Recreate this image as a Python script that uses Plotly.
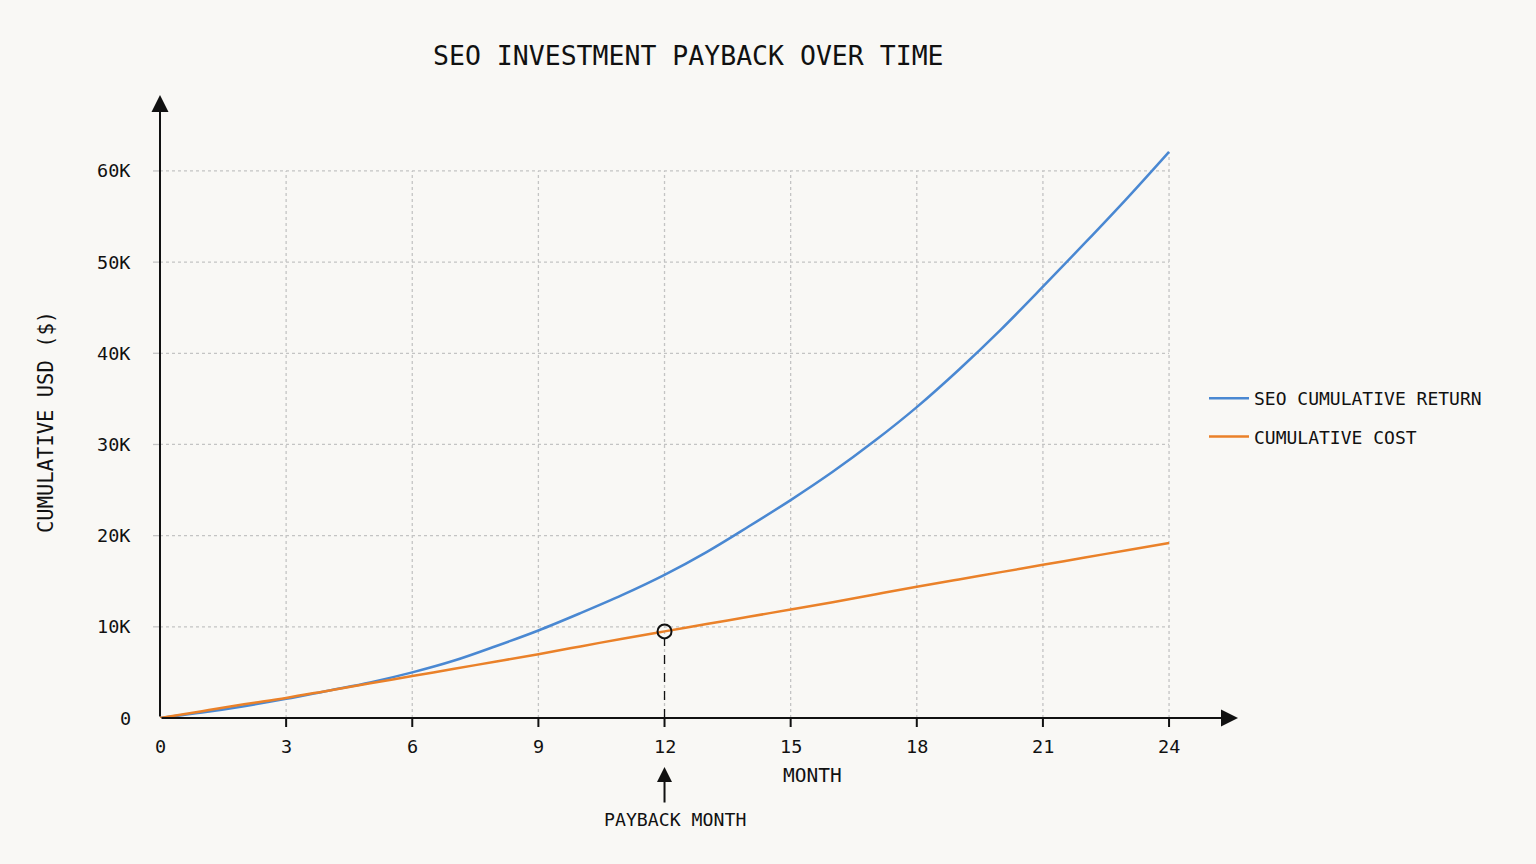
import plotly.graph_objects as go

# ---------------- data ----------------
months = list(range(0, 25))
seo_return = [0, 0.6, 1.3, 2.1, 3.0, 3.9, 5.0, 6.3, 7.9, 9.6, 11.5, 13.5, 15.7,
              18.2, 21.0, 23.9, 27.0, 30.4, 34.1, 38.2, 42.6, 47.3, 52.1, 57.0, 62.1]
seo_return = [v * 1000 for v in seo_return]
cum_cost = [0, 0.75, 1.5, 2.2, 3.0, 3.8, 4.6, 5.4, 6.2, 7.0, 7.85, 8.7, 9.5,
            10.3, 11.1, 11.9, 12.7, 13.55, 14.4, 15.2, 16.0, 16.8, 17.6, 18.4, 19.2]
cum_cost = [v * 1000 for v in cum_cost]

x_ticks = [0, 3, 6, 9, 12, 15, 18, 21, 24]
y_ticks = [0, 10000, 20000, 30000, 40000, 50000, 60000]
y_tick_labels = ["0", "10K", "20K", "30K", "40K", "50K", "60K"]
payback_month = 12
payback_value = 9500

TITLE = "SEO INVESTMENT PAYBACK OVER TIME"
FONT = "DejaVu Sans Mono"
BG = "#f9f8f5"
BLUE = "#4a88d2"
ORANGE = "#ea8129"
GRID = "#c4c4c4"
INK = "#111111"

W, H = 1536, 864
L, R, T, B = 160, 298, 95, 146
X_MAX = 25.64
Y_MAX = 68330

def px_x(p):
    return (p - L) / (W - L - R)

def px_y(p):
    return 1 - (p - T) / (H - T - B)

fig = go.Figure()

fig.add_trace(go.Scatter(x=months, y=seo_return, mode="lines", name="SEO CUMULATIVE RETURN",
                         line=dict(color=BLUE, width=2.5, shape="spline"),
                         legendgroup="a", cliponaxis=False))
fig.add_trace(go.Scatter(x=months, y=cum_cost, mode="lines", name="CUMULATIVE COST",
                         line=dict(color=ORANGE, width=2.5, shape="spline"),
                         legendgroup="b", cliponaxis=False))
fig.add_trace(go.Scatter(x=[payback_month], y=[payback_value], mode="markers", showlegend=False,
                         marker=dict(symbol="circle-open", size=14, color=INK, line=dict(width=2)),
                         cliponaxis=False))

shapes = []
for yv in y_ticks[1:]:
    shapes.append(dict(type="line", xref="x", yref="y", x0=0, x1=24, y0=yv, y1=yv,
                       line=dict(color=GRID, width=1.3, dash="dot"), layer="below"))
    shapes.append(dict(type="line", xref="paper", yref="y", x0=px_x(153), x1=px_x(160), y0=yv, y1=yv,
                       line=dict(color=GRID, width=1.3), layer="below"))
for xv in x_ticks[1:]:
    top = 62100 if xv == 24 else 60000
    shapes.append(dict(type="line", xref="x", yref="y", x0=xv, x1=xv, y0=0, y1=top,
                       line=dict(color=GRID, width=1.3, dash="dot"), layer="below"))
shapes.append(dict(type="line", xref="x", yref="y", x0=payback_month, x1=payback_month,
                   y0=0, y1=payback_value - 800, line=dict(color=INK, width=1.3, dash="dash")))
for xv in x_ticks[1:]:
    shapes.append(dict(type="line", xref="x", yref="paper", x0=xv, x1=xv, y0=px_y(718), y1=px_y(727),
                       line=dict(color=INK, width=2)))

annotations = []
annotations.append(dict(x=X_MAX, y=0, ax=0, ay=0, xref="x", yref="y", axref="x", ayref="y",
                        showarrow=True, arrowhead=2, arrowsize=1.7, arrowwidth=2, arrowcolor=INK, text=""))
annotations.append(dict(x=0, y=Y_MAX, ax=0, ay=0, xref="x", yref="y", axref="x", ayref="y",
                        showarrow=True, arrowhead=2, arrowsize=1.7, arrowwidth=2, arrowcolor=INK, text=""))
for xv in x_ticks:
    annotations.append(dict(x=xv, y=px_y(746), xref="x", yref="paper", text=str(xv), showarrow=False,
                            font=dict(family=FONT, size=18.5, color=INK), xanchor="center", yanchor="middle"))
for yv, lab in zip(y_ticks, y_tick_labels):
    annotations.append(dict(x=px_x(133), y=yv, xref="paper", yref="y", text=lab, showarrow=False,
                            font=dict(family=FONT, size=18.5, color=INK), xanchor="right", yanchor="middle"))
annotations.append(dict(x=px_x(688), y=px_y(55), xref="paper", yref="paper", text=TITLE, showarrow=False,
                        font=dict(family=FONT, size=26.5, color=INK), xanchor="center", yanchor="middle"))
annotations.append(dict(x=px_x(812), y=px_y(775), xref="paper", yref="paper", text="MONTH", showarrow=False,
                        font=dict(family=FONT, size=19.5, color=INK), xanchor="center", yanchor="middle"))
annotations.append(dict(x=px_x(46), y=px_y(422), xref="paper", yref="paper", text="CUMULATIVE USD ($)",
                        showarrow=False, textangle=-90,
                        font=dict(family=FONT, size=20.5, color=INK), xanchor="center", yanchor="middle"))
annotations.append(dict(x=payback_month, y=px_y(767), ax=0, ay=37,
                        xref="x", yref="paper", axref="pixel", ayref="pixel", text="", showarrow=True,
                        arrowhead=2, arrowsize=1.5, arrowwidth=2, arrowcolor=INK))
annotations.append(dict(x=px_x(675), y=px_y(819), xref="paper", yref="paper", text="PAYBACK MONTH",
                        showarrow=False, font=dict(family=FONT, size=18.2, color=INK),
                        xanchor="center", yanchor="middle"))

fig.update_layout(
    width=W, height=H,
    margin=dict(l=L, r=R, t=T, b=B),
    paper_bgcolor=BG, plot_bgcolor=BG,
    font=dict(family=FONT, size=18, color=INK),
    xaxis=dict(range=[0, X_MAX], showgrid=False, zeroline=False, showline=False,
               showticklabels=False, ticks=""),
    yaxis=dict(range=[0, Y_MAX], showgrid=False, zeroline=False, showline=False,
               showticklabels=False, ticks=""),
    legend=dict(x=px_x(1204), y=px_y(380), xanchor="left", yanchor="top", xref="paper", yref="paper",
                bgcolor="rgba(0,0,0,0)", font=dict(family=FONT, size=18, color=INK),
                tracegroupgap=12, itemwidth=40),
    shapes=shapes, annotations=annotations,
    showlegend=True,
)

fig.write_html("out.html")
